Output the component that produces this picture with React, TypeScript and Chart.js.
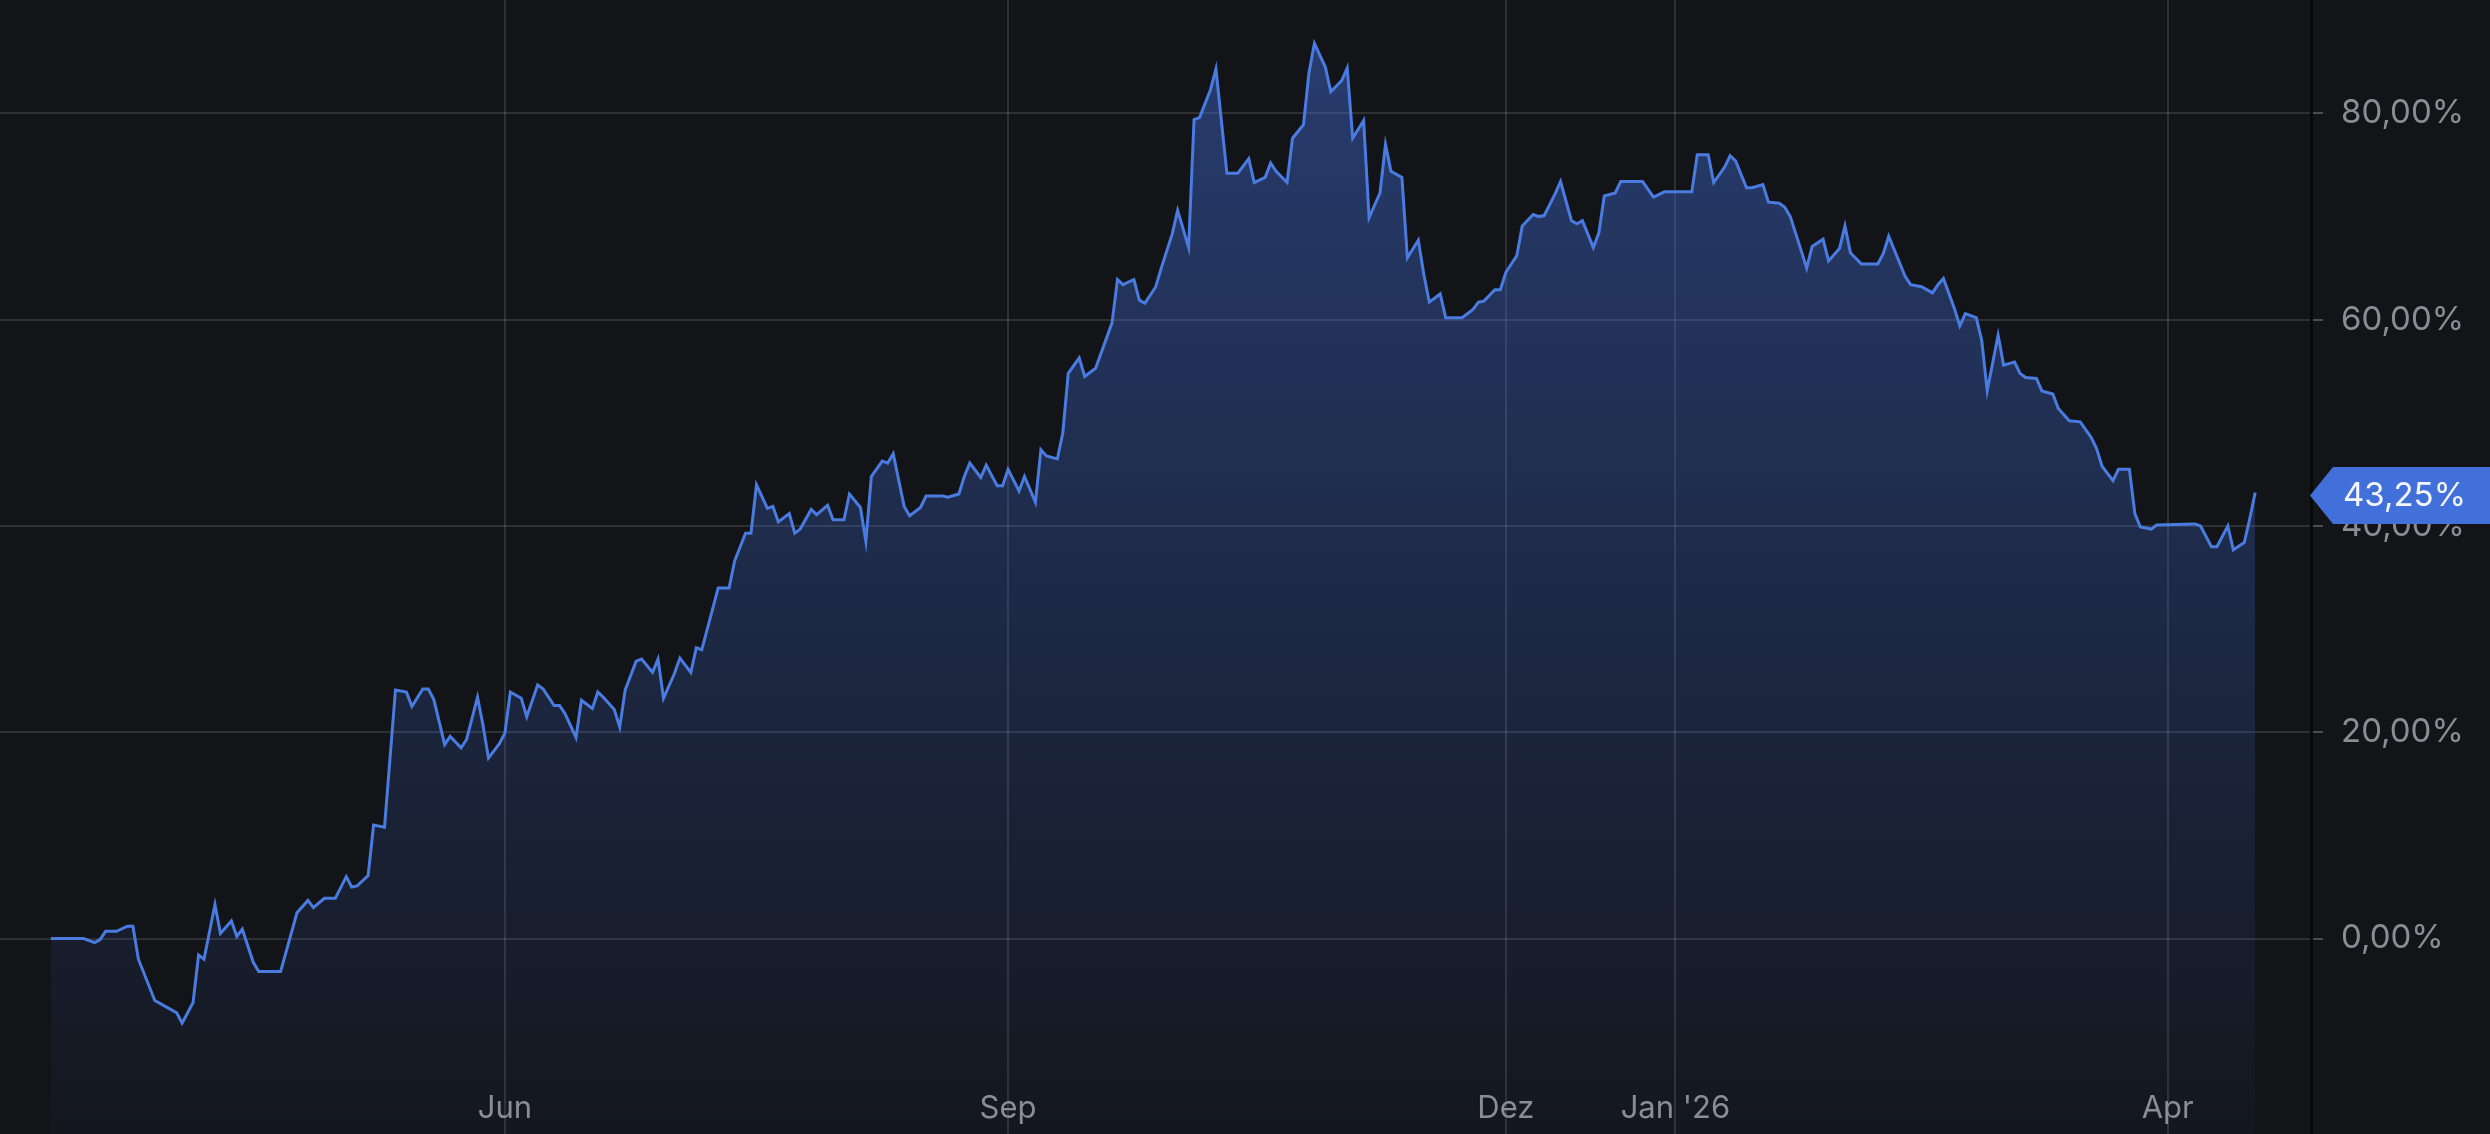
import React, { useEffect, useRef } from "react";
import { Chart, registerables } from "chart.js";

Chart.register(...registerables);

// Days since 2025-06-01 (trading days shown)
const days: number[] = [
  -83, -77, -75, -74, -73, -71, -69, -68, -67, -64,
  -62, -60, -59, -57, -56, -55, -53, -52, -50, -49,
  -48, -46, -45, -41, -38, -36, -35, -33, -31, -29,
  -28, -27, -25, -24, -22, -20, -18, -17, -15, -14,
  -13, -11, -10, -8, -7, -5, -4, -3, -1, 0,
  1, 3, 4, 6, 7, 9, 10, 11, 13, 14,
  16, 17, 18, 20, 21, 22, 24, 25, 27, 28,
  29, 31, 32, 34, 35, 36, 38, 39, 41, 42,
  44, 45, 46, 48, 49, 50, 52, 53, 54, 56,
  57, 59, 60, 62, 63, 65, 66, 67, 69, 70,
  71, 73, 74, 76, 77, 80, 81, 83, 84, 85,
  87, 88, 90, 91, 92, 94, 95, 97, 98, 99,
  101, 102, 103, 105, 106, 108, 111, 112, 113, 115,
  116, 117, 119, 120, 122, 123, 125, 126, 127, 129,
  130, 132, 134, 136, 137, 139, 140, 141, 143, 144,
  146, 147, 148, 150, 151, 153, 154, 155, 157, 158,
  160, 161, 162, 164, 165, 167, 168, 169, 171, 172,
  175, 177, 178, 179, 181, 182, 183, 185, 186, 188,
  189, 190, 192, 193, 195, 196, 197, 199, 200, 201,
  203, 204, 208, 210, 212, 217, 218, 220, 221, 223,
  224, 225, 227, 228, 230, 231, 233, 234, 235, 237,
  238, 239, 241, 242, 244, 245, 246, 248, 251, 252,
  253, 255, 256, 257, 259, 261, 262, 263, 265, 266,
  267, 269, 270, 271, 273, 274, 276, 277, 278, 280,
  281, 283, 284, 286, 288, 290, 291, 292, 294, 295,
  297, 298, 299, 301, 302, 309, 310, 312, 313, 315,
  316, 318, 319, 320,
];

// Performance in %
const performance: number[] = [
  0, 0, -0.4, -0.1, 0.7, 0.7, 1.2, 1.2, -2.0, -6.0,
  -6.6, -7.2, -8.2, -6.2, -1.6, -2.0, 3.3, 0.5, 1.7, 0.2,
  0.9, -2.3, -3.2, -3.2, 2.5, 3.7, 3.0, 3.9, 3.9, 6.0,
  5.0, 5.1, 6.1, 11.0, 10.8, 24.1, 23.9, 22.5, 24.2, 24.2,
  23.2, 18.8, 19.6, 18.5, 19.3, 23.4, 20.7, 17.5, 18.9, 19.9,
  23.9, 23.3, 21.5, 24.6, 24.2, 22.6, 22.6, 21.8, 19.5, 23.1,
  22.3, 23.9, 23.4, 22.2, 20.5, 24.1, 26.9, 27.1, 25.8, 27.1,
  23.3, 25.7, 27.2, 25.8, 28.2, 28.0, 32.0, 34.0, 34.0, 36.6,
  39.3, 39.3, 44.0, 41.7, 41.9, 40.4, 41.2, 39.3, 39.7, 41.6,
  41.1, 42.0, 40.6, 40.6, 43.1, 41.8, 38.5, 44.8, 46.3, 46.1,
  47.0, 41.9, 41.0, 41.8, 42.9, 42.9, 42.8, 43.1, 44.8, 46.1,
  44.7, 45.9, 43.9, 43.9, 45.5, 43.4, 44.8, 42.3, 47.4, 46.8,
  46.5, 49.0, 54.8, 56.3, 54.5, 55.3, 59.7, 63.9, 63.4, 63.9,
  61.9, 61.6, 63.2, 65.0, 68.3, 70.6, 67.0, 79.4, 79.6, 82.3,
  84.3, 74.2, 74.2, 75.6, 73.3, 73.8, 75.2, 74.4, 73.3, 77.6,
  78.9, 83.9, 86.8, 84.5, 82.1, 83.2, 84.4, 77.6, 79.3, 69.9,
  72.3, 77.0, 74.4, 73.8, 66.0, 67.7, 64.4, 61.7, 62.5, 60.2,
  60.2, 61.0, 61.7, 61.8, 62.9, 62.9, 64.6, 66.2, 69.1, 70.2,
  70.0, 70.1, 72.2, 73.4, 69.6, 69.3, 69.6, 67.0, 68.4, 72.0,
  72.3, 73.4, 73.4, 71.9, 72.4, 72.4, 76.0, 76.0, 73.3, 74.8,
  75.9, 75.4, 72.8, 72.8, 73.1, 71.4, 71.3, 70.9, 70.0, 66.7,
  65.0, 67.1, 67.8, 65.7, 66.9, 69.1, 66.5, 65.4, 65.4, 66.4,
  68.1, 65.5, 64.2, 63.4, 63.2, 62.6, 63.4, 64.0, 61.1, 59.4,
  60.6, 60.2, 58.0, 53.1, 58.5, 55.6, 55.9, 54.8, 54.4, 54.3,
  53.1, 52.8, 51.4, 50.2, 50.1, 48.6, 47.5, 45.8, 44.4, 45.5,
  45.5, 41.2, 39.9, 39.7, 40.1, 40.2, 40.0, 38.0, 38.0, 40.0,
  37.7, 38.4, 40.7, 43.25,
];

const xTickDays: number[] = [0, 92, 183, 214, 304];
const xTickLabels: string[] = ["Jun", "Sep", "Dez", "Jan '26", "Apr"];
const yTickValues: number[] = [0, 20, 40, 60, 80];

const BG = "#121418";
const FONT = "Inter, 'Noto Sans', sans-serif";
const LABEL_COLOR = "#8a8d94";

const fmtPct = (v: number) => v.toFixed(2).replace(".", ",") + "%";

export default function App() {
  const ref = useRef<HTMLCanvasElement | null>(null);

  useEffect(() => {
    document.body.style.margin = "0";
    document.body.style.background = BG;
    document.body.style.overflow = "hidden";
    const canvas = ref.current;
    if (!canvas) return;

    const bgPlugin = {
      id: "bg",
      beforeDraw(chart: any) {
        const c = chart.ctx;
        c.save();
        c.fillStyle = BG;
        c.fillRect(0, 0, chart.width, chart.height);
        c.restore();
      },
    };

    const xLabelPlugin = {
      id: "xLabels",
      afterDatasetsDraw(chart: any) {
        const c = chart.ctx;
        const xs = chart.scales.x;
        c.save();
        c.font = `31px ${FONT}`;
        c.fillStyle = LABEL_COLOR;
        c.textAlign = "center";
        c.textBaseline = "middle";
        xTickDays.forEach((d, i) => {
          c.fillText(xTickLabels[i], xs.getPixelForValue(d), chart.chartArea.bottom - 25);
        });
        c.restore();
      },
    };

    const badgePlugin = {
      id: "lastBadge",
      afterDraw(chart: any) {
        const c = chart.ctx;
        const area = chart.chartArea;
        const v = performance[performance.length - 1];
        const y = chart.scales.y.getPixelForValue(v) + 3;
        const tipX = area.right - 1;
        const boxX = tipX + 23;
        const h = 57;
        c.save();
        c.fillStyle = "#4270db";
        c.beginPath();
        c.moveTo(tipX, y);
        c.lineTo(boxX, y - h / 2);
        c.lineTo(chart.width, y - h / 2);
        c.lineTo(chart.width, y + h / 2);
        c.lineTo(boxX, y + h / 2);
        c.closePath();
        c.fill();
        c.fillStyle = "#f3f6ff";
        c.font = `33px ${FONT}`;
        c.textAlign = "left";
        c.textBaseline = "middle";
        c.fillText(fmtPct(v), area.right + 32, y + 1);
        c.restore();
      },
    };

    const chart = new Chart(canvas, {
      type: "line",
      data: {
        datasets: [
          {
            data: days.map((d, i) => ({ x: d, y: performance[i] })),
            borderColor: "#4a7be0",
            borderWidth: 3,
            pointRadius: 0,
            tension: 0,
            fill: "start",
            backgroundColor: (ctx: any) => {
              const area = ctx.chart.chartArea;
              if (!area) return "rgba(66,110,220,0.2)";
              const g = ctx.chart.ctx.createLinearGradient(0, area.top, 0, area.bottom);
              g.addColorStop(0, "rgba(66,110,220,0.46)");
              g.addColorStop(1, "rgba(66,110,220,0.03)");
              return g;
            },
          },
        ],
      },
      options: {
        animation: false,
        responsive: false,
        devicePixelRatio: 1,
        layout: { padding: 0 },
        plugins: { legend: { display: false }, tooltip: { enabled: false } },
        scales: {
          x: {
            type: "linear",
            min: -92.3,
            max: 330.2,
            afterFit: (s: any) => {
              s.height = 0;
              s.paddingLeft = 0;
              s.paddingRight = 0;
              s.paddingTop = 0;
              s.paddingBottom = 0;
            },
            afterBuildTicks: (s: any) => {
              s.ticks = xTickDays.map((v) => ({ value: v }));
            },
            grid: { color: "rgba(255,255,255,0.12)", lineWidth: 2, drawTicks: false },
            border: { display: false },
            ticks: { display: false },
          },
          y: {
            type: "linear",
            position: "right",
            min: -18.95,
            max: 91.0,
            afterFit: (s: any) => {
              s.width = 179;
              s.paddingTop = 0;
              s.paddingBottom = 0;
              s.paddingLeft = 0;
              s.paddingRight = 0;
            },
            afterBuildTicks: (s: any) => {
              s.ticks = yTickValues.map((v) => ({ value: v }));
            },
            grid: {
              color: "rgba(255,255,255,0.12)",
              lineWidth: 2,
              tickLength: 12,
              tickColor: "#4a4d55",
            },
            border: { color: "#07080a", width: 3 },
            ticks: {
              padding: 18,
              color: LABEL_COLOR,
              font: { family: FONT, size: 33 },
              callback: (v: any) => fmtPct(Number(v)),
            },
          },
        },
      },
      plugins: [bgPlugin, xLabelPlugin, badgePlugin],
    } as any);

    return () => chart.destroy();
  }, []);

  return (
    <div style={{ width: 2490, height: 1134, background: BG }}>
      <canvas ref={ref} width={2490} height={1134} style={{ display: "block", width: 2490, height: 1134 }} />
    </div>
  );
}
